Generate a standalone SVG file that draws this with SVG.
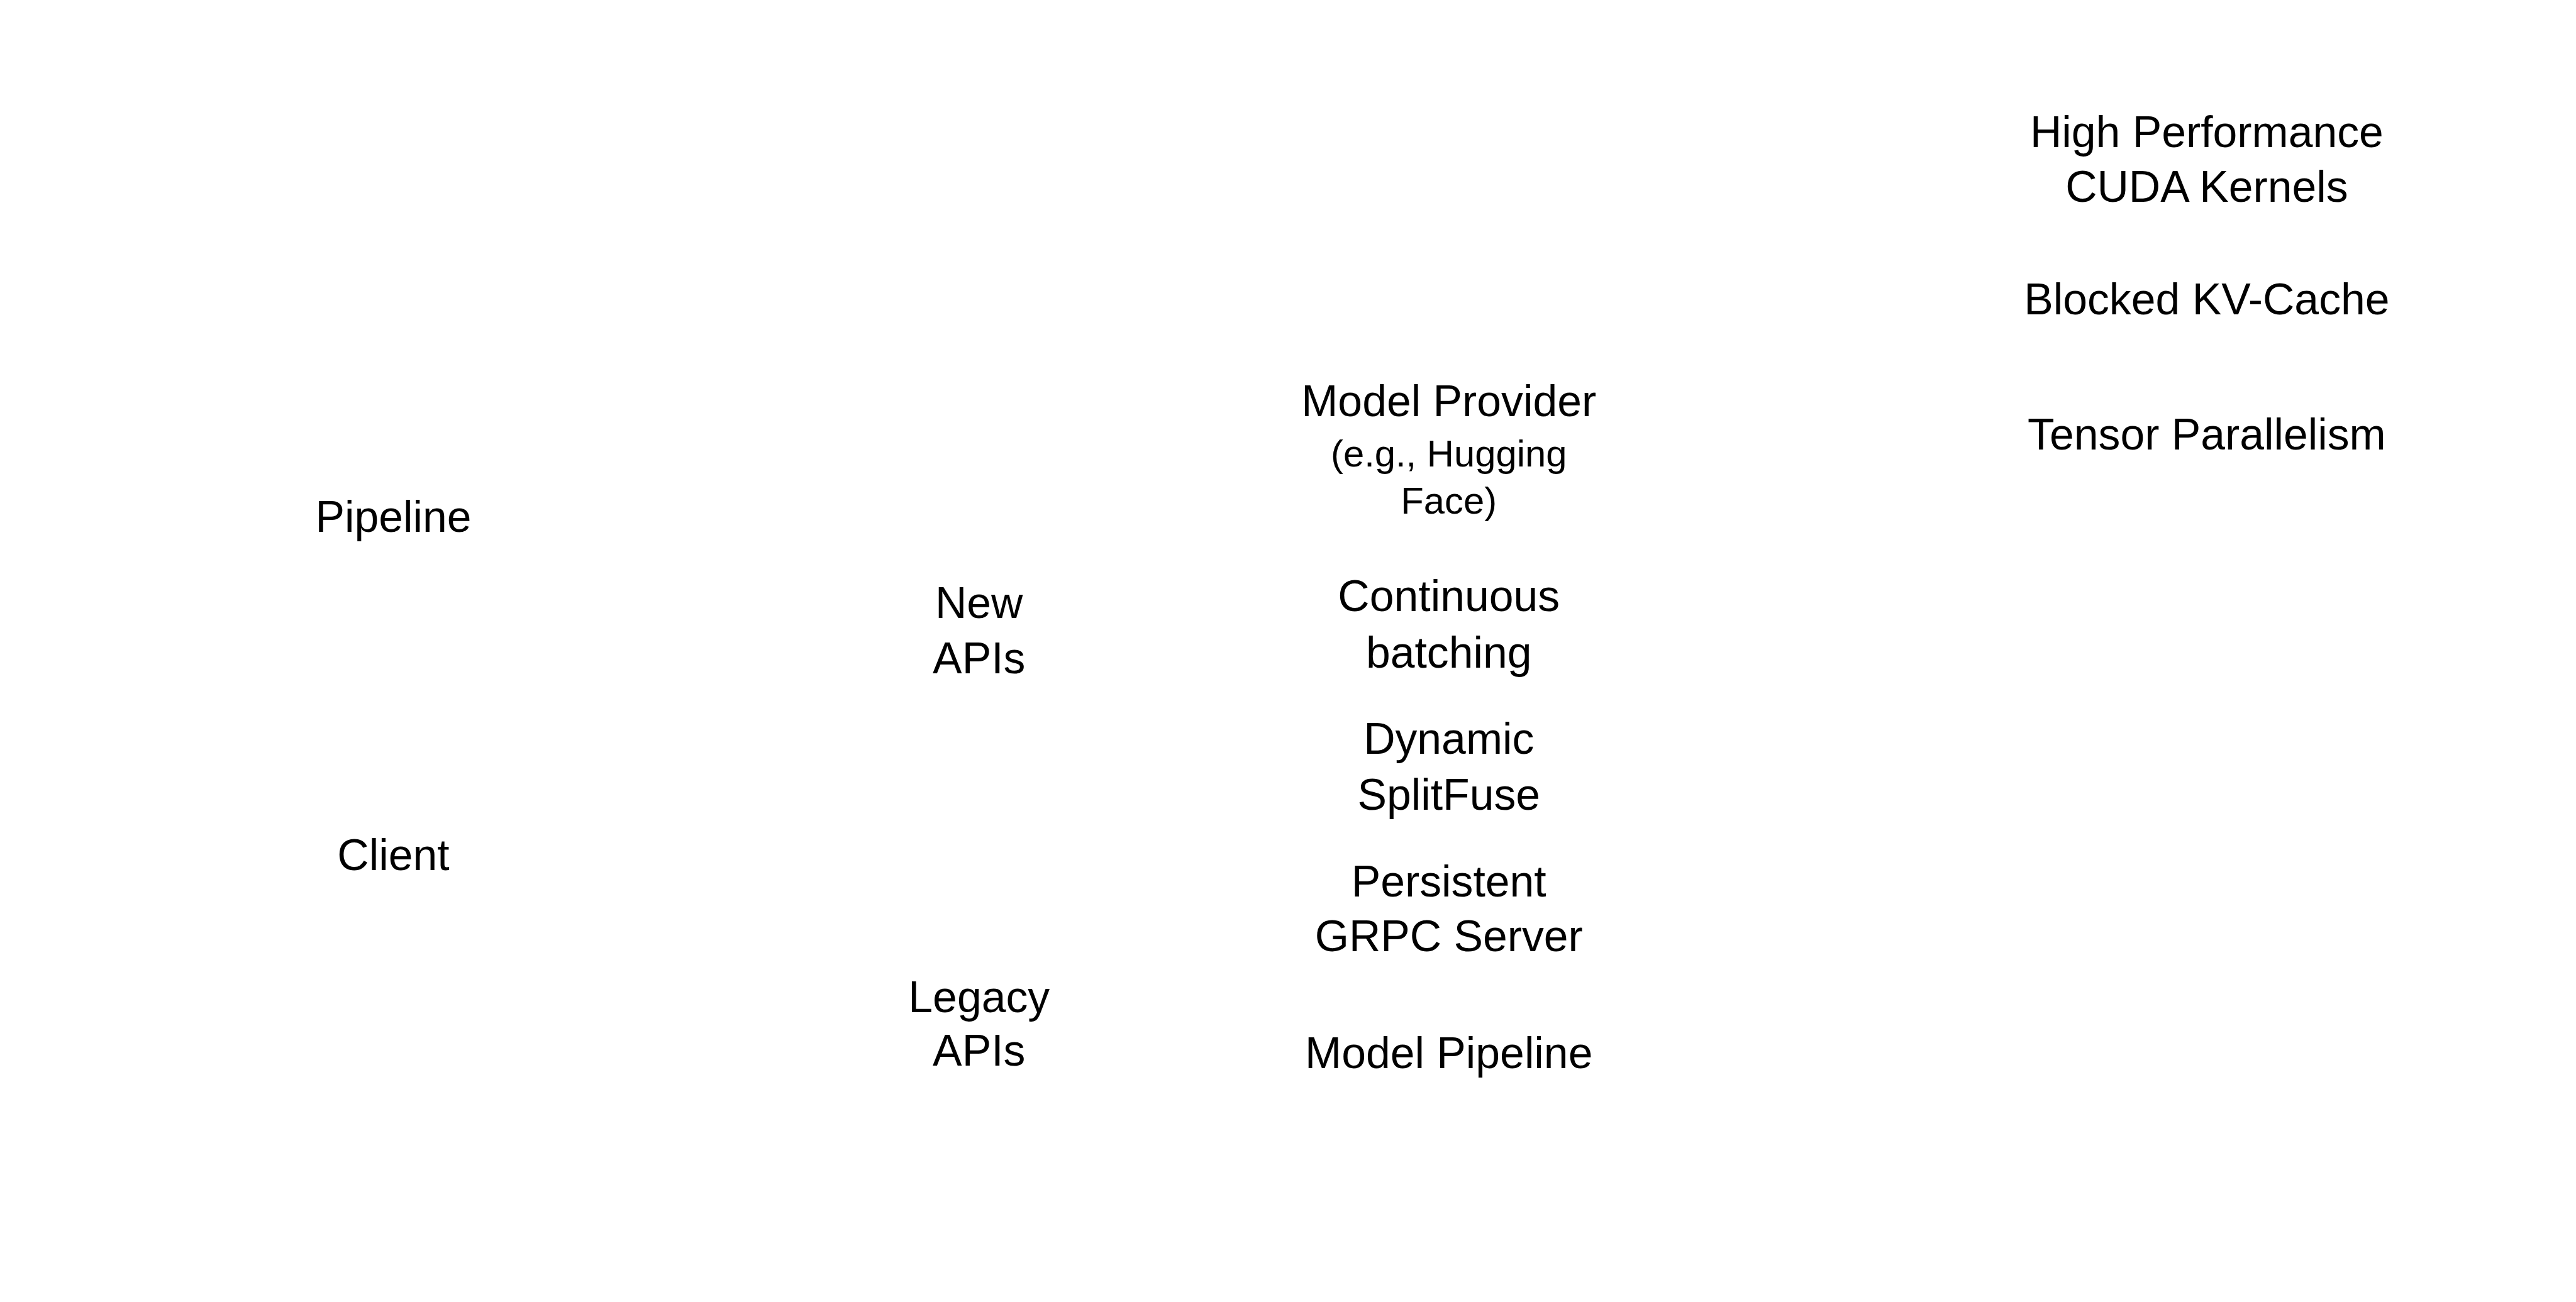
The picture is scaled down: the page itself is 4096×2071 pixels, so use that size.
<svg xmlns="http://www.w3.org/2000/svg" width="4096" height="2071" viewBox="0 0 4096 2071">
<style>
text{font-family:"Liberation Sans",Arial,sans-serif;fill:#000;text-anchor:middle;font-size:70px}
.s{font-size:60px}
</style>
<rect width="4096" height="2071" fill="#fff"/>
<g transform="scale(0.996)">
<g id="connectors"/>
<g id="pipeline"><text x="628" y="849">Pipeline</text></g>
<g id="client"><text x="628" y="1390">Client</text></g>
<g id="new-apis"><text x="1563" y="987">New</text><text x="1563" y="1075">APIs</text></g>
<g id="legacy-apis"><text x="1563" y="1616">Legacy</text><text x="1563" y="1702">APIs</text></g>
<g id="model-provider"><text x="2313" y="665">Model Provider</text><text class="s" x="2313" y="745">(e.g., Hugging</text><text class="s" x="2313" y="820">Face)</text></g>
<g id="continuous-batching"><text x="2313" y="976">Continuous</text><text x="2313" y="1066">batching</text></g>
<g id="dynamic-splitfuse"><text x="2313" y="1204">Dynamic</text><text x="2313" y="1293">SplitFuse</text></g>
<g id="grpc-server"><text x="2313" y="1432">Persistent</text><text x="2313" y="1519">GRPC Server</text></g>
<g id="model-pipeline"><text x="2313" y="1706">Model Pipeline</text></g>
<g id="cuda-kernels"><text x="3523" y="235">High Performance</text><text x="3523" y="322">CUDA Kernels</text></g>
<g id="kv-cache"><text x="3523" y="502">Blocked KV-Cache</text></g>
<g id="tensor-parallelism"><text x="3523" y="718">Tensor Parallelism</text></g>
</g>
</svg>
